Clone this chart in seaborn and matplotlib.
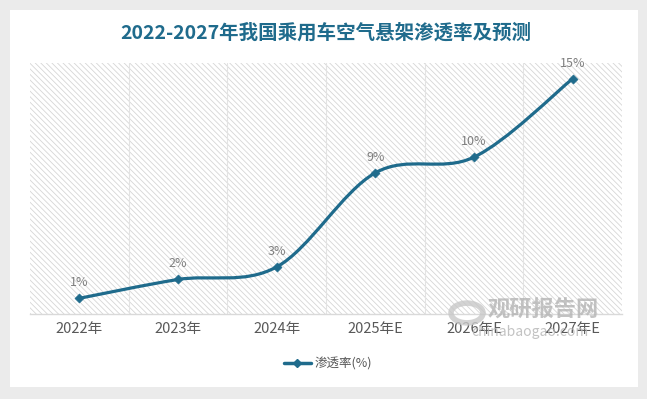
import numpy as np
import pandas as pd
import matplotlib
matplotlib.use("Agg")
import matplotlib.pyplot as plt
import seaborn as sns
from matplotlib.path import Path
from matplotlib.patches import PathPatch, Rectangle, Circle
from matplotlib.lines import Line2D

# 数据
years = ['2022年', '2023年', '2024年', '2025年E', '2026年E', '2027年E']
rate = [1.0, 2.2, 3.0, 9.0, 10.0, 15.0]
rate_labels = ['1%', '2%', '3%', '9%', '10%', '15%']
title = '2022-2027年我国乘用车空气悬架渗透率及预测'
series_name = '渗透率(%)'

sns.set_theme(style='white')
plt.rcParams['font.family'] = ['Noto Sans CJK SC', 'DejaVu Sans']
plt.rcParams['hatch.linewidth'] = 0.6

LINE = '#1f6b8c'
TXT = '#595959'
W, H = 647, 399

df = pd.DataFrame({'year': years, 'rate': rate})
df['x'] = np.arange(len(df))

fig = plt.figure(figsize=(W / 100, H / 100), dpi=100)
fig.patch.set_facecolor('#ebebeb')
# 白色卡片
fig.add_artist(Rectangle((10 / W, 1 - 387 / H), 628 / W, 377 / H, transform=fig.transFigure,
                         facecolor='white', edgecolor='none', zorder=0))

ax = fig.add_axes([30 / W, 1 - 314 / H, 592 / W, 251 / H])
ax.set_facecolor('none')
ax.set_xlim(-0.5, len(df) - 0.5)
ax.set_ylim(0, 16)

# 斜线底纹
ax.add_patch(Rectangle((0, 0), 1, 1, transform=ax.transAxes, facecolor='white',
                       edgecolor='#d6d6d6', hatch='\\' * 6, lw=0, zorder=0))
for b in np.arange(0.5, len(df) - 0.5, 1):
    ax.axvline(b, color='#e3e3e3', lw=0.8, zorder=1)

# 平滑曲线 (Catmull-Rom -> Bezier)
pts = df[['x', 'rate']].to_numpy(dtype=float)
n = len(pts)
verts = [pts[0]]
codes = [Path.MOVETO]
for i in range(n - 1):
    p0 = pts[max(i - 1, 0)]
    p1 = pts[i]
    p2 = pts[i + 1]
    p3 = pts[min(i + 2, n - 1)]
    verts += [p1 + (p2 - p0) / 6, p2 - (p3 - p1) / 6, p2]
    codes += [Path.CURVE4] * 3
ax.add_patch(PathPatch(Path(verts, codes), facecolor='none', edgecolor=LINE, lw=2.3,
                       zorder=3, capstyle='round'))

sns.scatterplot(data=df, x='x', y='rate', marker='D', s=22, color=LINE, edgecolor=LINE,
                ax=ax, zorder=4, legend=False)

for x, y, lbl in zip(df['x'], df['rate'], rate_labels):
    ax.annotate(lbl, (x, y), xytext=(0, 6.5), textcoords='offset points', ha='center',
                va='bottom', fontsize=9, color='#7f7f7f')

ax.set_xlabel('')
ax.set_ylabel('')
ax.set_yticks([])
ax.set_xticks(df['x'])
ax.set_xticklabels(years, fontsize=10.5, color=TXT)
ax.tick_params(axis='x', length=0, pad=6)
for s in ['top', 'left', 'right']:
    ax.spines[s].set_visible(False)
ax.spines['bottom'].set_color('#d9d9d9')
ax.spines['bottom'].set_linewidth(1)

fig.text(326 / W, 1 - 33 / H, title, ha='center', va='center', fontsize=14,
         fontweight='bold', color=LINE)

handle = Line2D([], [], color=LINE, lw=2.5, marker='D', ms=4)
fig.legend([handle], [series_name], loc='center', bbox_to_anchor=(328 / W, 1 - 364 / H),
           frameon=False, fontsize=9, labelcolor=TXT, handlelength=2.2, handletextpad=0.3)

# 水印
fig.add_artist(Circle((467 / W, 1 - 313 / H), 16 / W, transform=fig.transFigure,
                      facecolor='none', edgecolor='#c8c8c8', lw=4, alpha=0.8, zorder=5))
fig.text(543 / W, 1 - 310 / H, '观研报告网', ha='center', va='center', fontsize=16,
         fontweight='bold', color='#b4b4b4', alpha=0.8)
fig.text(530 / W, 1 - 332 / H, 'chinabaogao.com', ha='center', va='center', fontsize=10,
         color='#b4b4b4', alpha=0.8)

fig.savefig('out.png', dpi=100, facecolor=fig.get_facecolor())
